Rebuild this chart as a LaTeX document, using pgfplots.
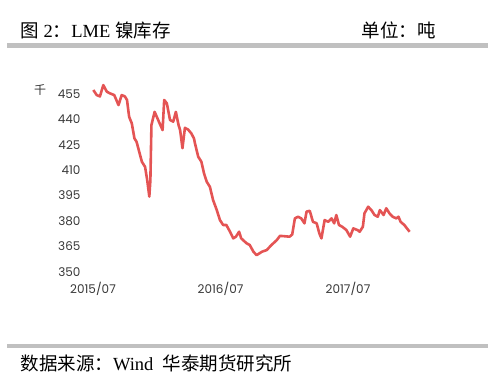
\documentclass[border=0pt]{standalone}
\usepackage{pgfplots}
\pgfplotsset{compat=1.18}
\usepackage{fontspec}
\setmainfont{Liberation Serif}
\newfontfamily\cjk{Noto Sans CJK SC}
\newfontfamily\tickfont{Poppins}
\definecolor{linered}{RGB}{228,84,84}
\definecolor{rulegray}{RGB}{192,192,192}
\begin{document}
\begin{tikzpicture}[x=1pt,y=1pt]
\path[use as bounding box] (0,0) rectangle (500,386);
\fill[rulegray] (7,338) rectangle (488,342.5);
\fill[rulegray] (7,38.5) rectangle (488,42.5);
\node[anchor=west,font=\fontsize{18.5}{20}\selectfont] at (17,355.5) {{\cjk 图}~2{\cjk ：}LME~{\cjk 镍库存}};
\node[anchor=west,font=\fontsize{18.5}{20}\selectfont] at (358,355.5) {{\cjk 单位：吨}};
\node[anchor=west,font=\fontsize{18.5}{20}\selectfont] at (17,23) {{\cjk 数据来源：}Wind~~{\cjk 华泰期货研究所}};
\node[font=\fontsize{12}{13}\selectfont\cjk, text=black!80] at (40,296) {千};
\begin{axis}[
  at={(93pt,114.3pt)}, anchor=south west,
  scale only axis, width=318.75pt, height=186.1pt,
  xmin=0, xmax=30, ymin=350, ymax=460,
  axis line style={draw=none}, major tick style={draw=none},
  xtick={0,12,24}, xticklabels={2015/07,2016/07,2017/07},
  ytick={350,365,380,395,410,425,440,455},
  /pgf/number format/assume math mode=true,
  ticklabel style={font=\fontsize{12}{14}\selectfont\tickfont, text=black!78},
  yticklabel style={xshift=-9pt},
  xticklabel style={yshift=-7pt},
  clip=false,
]
\addplot[linered, line width=2.6pt, line join=round] coordinates {
(0.03,457.4)(0.35,454.4)(0.65,453.6)(0.97,460.3)(1.3,456.4)(1.6,455.4)(2.0,454.4)(2.4,448.5)(2.7,454.4)(3.0,453.6)
(3.2,451.5)(3.4,441.6)(3.65,437.7)(3.9,428.8)(4.1,426.8)(4.35,420.9)(4.6,415)(4.9,412)(5.1,404.2)(5.3,394.4)
(5.4,404)(5.5,436.7)(5.8,444.5)(6.0,441.6)(6.2,438.7)(6.55,433.7)(6.7,451.5)(6.95,449.5)(7.25,439.7)(7.55,438.7)
(7.8,444.5)(8.05,436.7)(8.2,433.7)(8.42,423)(8.65,435)(8.95,434)(9.25,431.8)(9.5,428.8)(9.6,425.8)(9.9,418)
(10.2,415)(10.45,408.1)(10.7,403.2)(11.0,400.2)(11.3,392.4)(11.65,386.4)(11.95,380.5)(12.25,377.6)(12.55,377.6)(12.9,373.6)
(13.2,369.7)(13.45,370.7)(13.75,373.6)(13.95,369.7)(14.45,366.8)(14.75,365.8)(15.1,361.8)(15.4,359.8)(15.9,361.8)(16.35,362.8)
(16.8,365.8)(17.3,368.7)(17.6,371.2)(18.5,370.7)(18.75,372)(19.0,381.5)(19.3,382.5)(19.6,381.5)(19.9,378.6)(20.1,385.5)
(20.4,386)(20.7,379.5)(21.05,378.6)(21.3,372.7)(21.5,369.7)(21.8,380.5)(22.15,379.5)(22.45,381.5)(22.7,378.6)(22.9,383.5)
(23.15,377.6)(23.45,376.6)(23.85,374.6)(24.2,370.7)(24.5,375.6)(24.9,374.6)(25.1,373.6)(25.4,376.6)(25.55,384.5)(25.9,388.4)
(26.2,386.4)(26.5,383.5)(26.8,382.5)(27.0,386.4)(27.35,383.5)(27.6,387.5)(27.9,384.5)(28.2,382.5)(28.55,381.5)(28.75,382.5)
(28.95,379.5)(29.3,377.6)(29.8,373.6)
};
\end{axis}
\end{tikzpicture}
\end{document}
